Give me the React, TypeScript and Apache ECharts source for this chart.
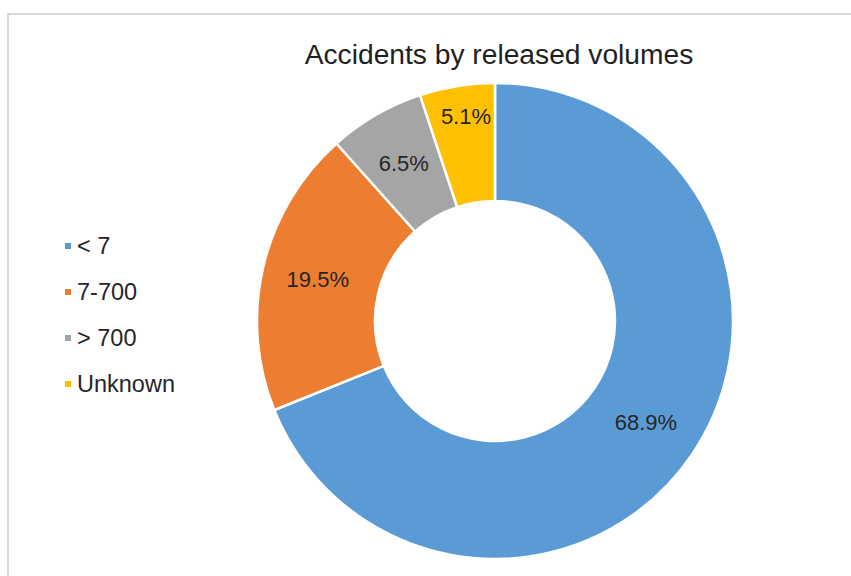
import React, { useEffect, useRef } from "react";
import * as echarts from "echarts";

const titleText = "Accidents by released volumes";
const categories = ["< 7", "7-700", "> 700", "Unknown"];
const shares = [68.9, 19.5, 6.5, 5.1];
const colors = ["#5B9BD5", "#ED7D31", "#A5A5A5", "#FFC000"];

export default function App() {
  const ref = useRef<HTMLDivElement>(null);
  useEffect(() => {
    if (!ref.current) return;
    const chart = echarts.init(ref.current, undefined, { renderer: "svg" });
    const font = "'Liberation Sans', Arial, sans-serif";
    chart.setOption({
      animation: false,
      backgroundColor: "#ffffff",
      title: {
        text: titleText,
        left: 494,
        top: 35,
        textAlign: "center",
        textStyle: { fontFamily: font, fontSize: 28.2, fontWeight: "normal", color: "#1f1f1f" },
      },
      legend: {
        orient: "vertical",
        left: 58,
        top: 229,
        itemWidth: 8,
        itemHeight: 8,
        itemGap: 22,
        icon: "rect",
        data: categories,
        textStyle: { fontFamily: font, fontSize: 23.5, color: "#262626" },
      },
      graphic: [
        {
          type: "rect",
          shape: { x: 8, y: 14, width: 900, height: 600 },
          style: { fill: "none", stroke: "#d9d9d9", lineWidth: 2 },
          silent: true,
        },
      ],
      series: [
        {
          type: "pie",
          center: [495, 321],
          radius: [120, 238],
          startAngle: 90,
          clockwise: true,
          avoidLabelOverlap: false,
          itemStyle: { borderColor: "#ffffff", borderWidth: 2.5 },
          label: {
            show: true,
            position: "inside",
            formatter: "{c}%",
            fontFamily: font,
            fontSize: 22,
            color: "#262626",
          },
          labelLine: { show: false },
          emphasis: { disabled: true },
          data: categories.map((name, i) => {
            const item: any = { name, value: shares[i], itemStyle: { color: colors[i] } };
            if (name === "Unknown") {
              item.label = { formatter: "{c}%\n ", lineHeight: 50 };
            }
            return item;
          }),
        },
      ],
    });
    return () => chart.dispose();
  }, []);
  return (
    <div
      ref={ref}
      style={{ position: "fixed", left: 0, top: 0, width: 851, height: 576 }}
    />
  );
}
